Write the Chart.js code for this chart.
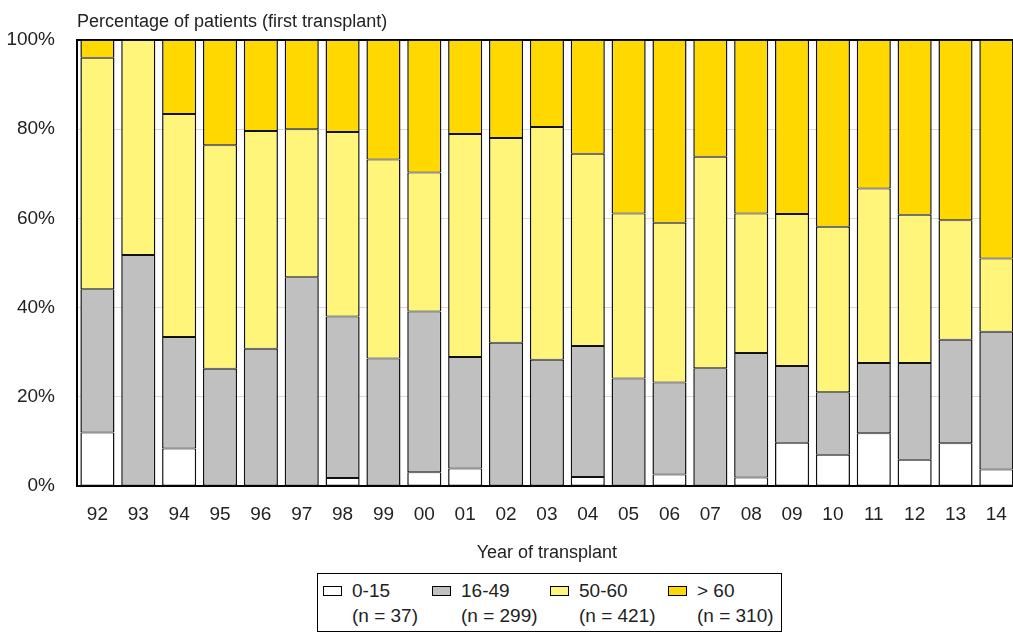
<!DOCTYPE html>
<html>
<head>
<meta charset="utf-8">
<script src="https://cdn.jsdelivr.net/npm/chart.js@4.4.1/dist/chart.umd.min.js"></script>
<style>
  html, body { margin: 0; padding: 0; background: #fff; overflow: hidden; }
  #wrap { position: relative; width: 1013px; height: 633px; overflow: hidden; }
  #box { position: absolute; left: 0; top: 0; width: 1024px; height: 633px; }
  #legend {
    position: absolute; left: 317px; top: 573px; width: 463px; height: 57px;
    border: 1px solid #000; background: #fff;
    font-family: "Liberation Sans Narrow", "Arial Narrow", "Liberation Sans", sans-serif;
    font-size: 19px; color: #222;
  }
  #legend .item { position: absolute; top: 4px; line-height: 25px; }
  #legend .sw { position: absolute; left: 0; top: 8px; width: 19px; height: 10px; border: 1px solid #000; box-sizing: border-box; }
  #legend .txt { padding-left: 29px; white-space: nowrap; }
</style>
</head>
<body>
<div id="wrap">
  <div id="box"><canvas id="chart" width="1024" height="633"></canvas></div>
  <div id="legend"></div>
</div>
<script>
// Age distribution (%) per year of first transplant
const years = ['92','93','94','95','96','97','98','99','00','01','02','03','04','05','06','07','08','09','10','11','12','13','14'];

const age0to15  = [12.0, 0, 8.4, 0, 0, 0, 1.8, 0, 3.1, 3.9, 0, 0, 2.0, 0, 2.6, 0, 1.9, 9.7, 7.0, 11.8, 5.9, 9.6, 3.7];
const age16to49 = [32.1, 51.8, 25.0, 26.3, 30.8, 46.8, 36.2, 28.6, 36.0, 25.0, 32.1, 28.3, 29.4, 24.1, 20.6, 26.4, 27.9, 17.2, 14.0, 15.8, 21.7, 23.2, 30.9];
const age50to60 = [51.9, 48.2, 50.0, 50.1, 48.8, 33.2, 41.4, 44.6, 31.2, 50.0, 45.9, 52.2, 43.1, 37.0, 35.8, 47.4, 31.3, 34.1, 37.1, 39.1, 33.2, 26.8, 16.4];
const ageOver60 = [4.0, 0, 16.6, 23.6, 20.4, 20.0, 20.6, 26.8, 29.7, 21.1, 22.0, 19.5, 25.5, 38.9, 41.0, 26.2, 38.9, 39.0, 41.9, 33.3, 39.2, 40.4, 49.0];

const seriesNames = ['0-15', '16-49', '50-60', '> 60'];
const seriesCounts = ['(n = 37)', '(n = 299)', '(n = 421)', '(n = 310)'];
const yTicks = [0, 20, 40, 60, 80, 100];

const FONT = '"Liberation Sans Narrow", "Arial Narrow", "Liberation Sans", sans-serif';
const colors = ['#ffffff', '#c0c0c0', '#fff57a', '#ffd800'];

function ds(label, data, color) {
  return {
    label: label,
    data: data,
    backgroundColor: color,
    borderColor: '#111',
    borderWidth: { left: 1.5, right: 1.5, top: 1, bottom: 1 },
    borderSkipped: false,
    barPercentage: 0.835,
    categoryPercentage: 1.0
  };
}

// top-left axis caption
const topTitle = {
  id: 'topTitle',
  afterDraw(chart) {
    const ctx = chart.ctx;
    ctx.save();
    ctx.font = '18px ' + FONT;
    ctx.fillStyle = '#222';
    ctx.textAlign = 'left';
    ctx.textBaseline = 'alphabetic';
    ctx.fillText('Percentage of patients (first transplant)', chart.chartArea.left, 27);
    ctx.restore();
  }
};

const chart = new Chart(document.getElementById('chart'), {
  type: 'bar',
  data: {
    labels: years,
    datasets: [
      ds(seriesNames[0], age0to15, colors[0]),
      ds(seriesNames[1], age16to49, colors[1]),
      ds(seriesNames[2], age50to60, colors[2]),
      ds(seriesNames[3], ageOver60, colors[3])
    ]
  },
  options: {
    responsive: false,
    animation: false,
    layout: { padding: { top: 40, right: 3, left: 0, bottom: 0 } },
    plugins: {
      legend: { display: false },
      tooltip: { enabled: false }
    },
    scales: {
      x: {
        stacked: true,
        grid: { display: false, drawTicks: false },
        border: { display: true, color: '#000', width: 2 },
        ticks: { color: '#222', font: { family: FONT, size: 19 }, padding: 17, maxRotation: 0, autoSkip: false },
        title: { display: true, text: 'Year of transplant', color: '#222', font: { family: FONT, size: 18 }, padding: { top: 0, bottom: 69 } },
        afterFit(s) { s.height = 147; }
      },
      y: {
        stacked: true,
        min: 0,
        max: 100,
        afterBuildTicks(s) { s.ticks = yTicks.map(v => ({ value: v })); },
        grid: {
          drawTicks: false,
          color: c => c.tick && c.tick.value === 100 ? '#000' : '#d9d9d9',
          lineWidth: c => c.tick && c.tick.value === 100 ? 2 : 1
        },
        border: { display: true, color: '#000', width: 2 },
        ticks: { color: '#222', font: { family: FONT, size: 19 }, padding: 22, callback: v => v + '%' },
        afterFit(s) { s.width = 77; }
      }
    }
  },
  plugins: [topTitle]
});

// legend built from the chart's datasets
const legendX = [5, 114, 232, 350];
const leg = document.getElementById('legend');
chart.data.datasets.forEach((d, i) => {
  const item = document.createElement('div');
  item.className = 'item';
  item.style.left = legendX[i] + 'px';
  item.innerHTML = '<span class="sw" style="background:' + d.backgroundColor + '"></span>' +
    '<div class="txt">' + d.label + '<br>' + seriesCounts[i] + '</div>';
  leg.appendChild(item);
});
</script>
</body>
</html>
